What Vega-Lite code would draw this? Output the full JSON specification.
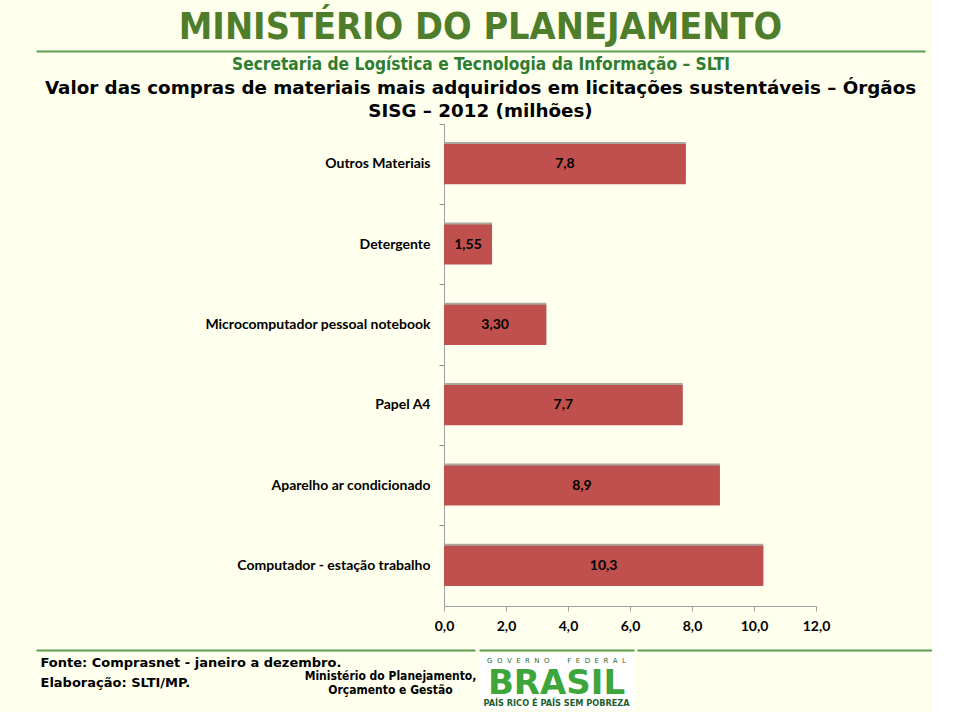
{
  "$schema": "https://vega.github.io/schema/vega-lite/v6.json",
  "background": "#FFFFEE",
  "padding": {"left": 33, "top": 8, "right": 0, "bottom": 0},
  "spacing": 6,
  "bounds": "full",
  "config": {
    "view": {"stroke": null},
    "axis": {"grid": false}
  },
  "vconcat": [
    {
      "width": 889,
      "height": 0,
      "data": {"values": [{}]},
      "mark": {"type": "point", "opacity": 0},
      "encoding": {
        "x": {
          "datum": 0,
          "type": "quantitative",
          "scale": {"domain": [0, 1]},
          "axis": {
            "orient": "bottom",
            "domainColor": "#5A9C4C",
            "domainWidth": 2,
            "ticks": false,
            "labels": false,
            "title": "Secretaria de Logística e Tecnologia da Informação – SLTI",
            "titleFont": "DejaVu Sans Condensed, sans-serif",
            "titleFontSize": 17.2,
            "titleFontWeight": "bold",
            "titleColor": "#2E7D32",
            "titlePadding": 4
          }
        }
      },
      "title": {
        "text": "MINISTÉRIO DO PLANEJAMENTO",
        "font": "DejaVu Sans Condensed, sans-serif",
        "fontSize": 37.5,
        "fontWeight": "bold",
        "color": "#4E7D2B",
        "anchor": "middle",
        "offset": -15
      }
    },
    {
      "width": 889,
      "height": 482,
      "title": {
        "text": ["Valor das compras de materiais mais adquiridos em licitações sustentáveis – Órgãos", "SISG – 2012 (milhões)"],
        "font": "DejaVu Sans, sans-serif",
        "fontSize": 18.3,
        "fontWeight": "bold",
        "color": "#000000",
        "anchor": "middle",
        "frame": "group",
        "offset": 2,
        "lineHeight": 23
      },
      "data": {
        "values": [
          {"material": "Outros Materiais", "valor": 7.8, "rotulo": "7,8"},
          {"material": "Detergente", "valor": 1.55, "rotulo": "1,55"},
          {"material": "Microcomputador pessoal notebook", "valor": 3.3, "rotulo": "3,30"},
          {"material": "Papel A4", "valor": 7.7, "rotulo": "7,7"},
          {"material": "Aparelho ar condicionado", "valor": 8.9, "rotulo": "8,9"},
          {"material": "Computador - estação trabalho", "valor": 10.3, "rotulo": "10,3"}
        ]
      },
      "encoding": {
        "y": {
          "field": "material",
          "type": "nominal",
          "sort": null,
          "scale": {"paddingInner": 0.5, "paddingOuter": 0.25},
          "axis": {
            "title": null,
            "offset": -408,
            "domainColor": "#A0A0A0",
            "tickColor": "#909090",
            "tickSize": 5,
            "bandPosition": -0.5,
            "labelFont": "Lato",
            "labelFontWeight": "bold",
            "labelFontSize": 14,
            "labelColor": "#000000",
            "labelPadding": 9,
            "labelLimit": 400
          }
        }
      },
      "layer": [
        {
          "mark": {"type": "bar", "color": "#A8A89E", "yOffset": -2, "x2Offset": 3},
          "encoding": {
            "x": {"field": "valor", "type": "quantitative", "scale": {"domain": [-13.1613, 15.5161], "nice": false}, "axis": null}
          }
        },
        {
          "mark": {"type": "bar", "color": "#C0504D"},
          "encoding": {
            "x": {
              "field": "valor",
              "type": "quantitative",
              "scale": {"domain": [-13.1613, 15.5161], "nice": false},
              "axis": {
                "title": null,
                "values": [0, 2, 4, 6, 8, 10, 12],
                "labelExpr": "replace(format(datum.value, '.1f'), '.', ',')",
                "domainColor": "#A0A0A0",
                "domainDash": [0, 408, 372, 200],
                "tickColor": "#A0A0A0",
                "tickSize": 5,
                "labelFont": "Lato",
                "labelFontWeight": "bold",
                "labelFontSize": 14,
                "labelColor": "#000000",
                "labelPadding": 8,
                "minExtent": 38
              }
            }
          }
        },
        {
          "mark": {"type": "text", "font": "Lato", "fontWeight": "bold", "fontSize": 14, "color": "#000000", "align": "center", "baseline": "middle"},
          "encoding": {
            "x": {"field": "valor", "type": "quantitative", "scale": {"domain": [-26.3226, 31.0323], "nice": false}, "axis": null},
            "text": {"field": "rotulo"}
          }
        }
      ],
      "resolve": {"scale": {"x": "independent"}}
    },
    {
      "spacing": 0,
      "hconcat": [
        {
          "width": 439,
          "height": 55,
          "data": {"values": [{}]},
          "mark": {"type": "point", "opacity": 0},
          "encoding": {
            "x": {
              "datum": 0,
              "type": "quantitative",
              "scale": {"domain": [0, 1]},
              "axis": {
                "orient": "top",
                "offset": 4,
                "domainColor": "#5A9C4C",
                "domainWidth": 2,
                "ticks": false,
                "labels": false,
                "title": ["Fonte: Comprasnet - janeiro a dezembro.", "Elaboração: SLTI/MP."],
                "titleFont": "DejaVu Sans",
                "titleFontSize": 13,
                "titleFontWeight": "bold",
                "titleColor": "#000000",
                "titleAlign": "left",
                "titleBaseline": "alphabetic",
                "titleAngle": 0,
                "titleX": 4,
                "titleY": 16,
                "titleLineHeight": 20
              }
            },
            "y": {
              "datum": 0,
              "type": "quantitative",
              "scale": {"domain": [0, 1]},
              "axis": {
                "domain": false,
                "ticks": false,
                "labels": false,
                "minExtent": 0,
                "maxExtent": 0,
                "title": ["Ministério do Planejamento,", "Orçamento e Gestão"],
                "titleFont": "DejaVu Sans Condensed, DejaVu Sans, sans-serif",
                "titleFontSize": 12,
                "titleFontWeight": "bold",
                "titleColor": "#000000",
                "titleAngle": 0,
                "titleAlign": "center",
                "titleBaseline": "alphabetic",
                "titleX": 354,
                "titleY": 25,
                "titleLineHeight": 14
              }
            }
          }
        },
        {
          "width": 155,
          "height": 55,
          "view": {"fill": "#FFFFFF", "stroke": null},
          "data": {
            "values": [
              {"r": "a", "t": "G\u00a0\u00a0O\u00a0\u00a0V\u00a0\u00a0E\u00a0\u00a0R\u00a0\u00a0N\u00a0\u00a0O\u00a0\u00a0\u00a0\u00a0\u00a0\u00a0\u00a0\u00a0F\u00a0\u00a0E\u00a0\u00a0D\u00a0\u00a0E\u00a0\u00a0R\u00a0\u00a0A\u00a0\u00a0L"},
              {"r": "b", "t": "BRASIL"},
              {"r": "c", "t": "PAÍS RICO É PAÍS SEM POBREZA"}
            ]
          },
          "encoding": {
            "y": {"field": "r", "type": "nominal", "scale": {"type": "point", "padding": 0.35}, "axis": null}
          },
          "layer": [
            {
              "mark": {"type": "point", "opacity": 0},
              "encoding": {
                "x": {
                  "datum": 0,
                  "type": "quantitative",
                  "scale": {"domain": [0, 1]},
                  "axis": {
                    "orient": "top",
                    "offset": 4,
                    "domainColor": "#5A9C4C",
                    "domainWidth": 2,
                    "ticks": false,
                    "labels": false,
                    "title": null
                  }
                }
              }
            },
            {
              "transform": [{"filter": "datum.r == 'a'"}],
              "mark": {"type": "text", "font": "DejaVu Sans", "fontSize": 7, "color": "#2E6B2E", "align": "center", "baseline": "middle"},
              "encoding": {"text": {"field": "t"}}
            },
            {
              "transform": [{"filter": "datum.r == 'b'"}],
              "mark": {"type": "text", "font": "DejaVu Sans", "fontWeight": "bold", "fontSize": 34, "color": "#3DA53A", "align": "center", "baseline": "middle", "dy": 2},
              "encoding": {"text": {"field": "t"}}
            },
            {
              "transform": [{"filter": "datum.r == 'c'"}],
              "mark": {"type": "text", "font": "DejaVu Sans", "fontWeight": "bold", "fontSize": 8.2, "color": "#1F5F2F", "align": "center", "baseline": "middle", "dy": 2},
              "encoding": {"text": {"field": "t"}}
            }
          ]
        },
        {
          "width": 295,
          "height": 55,
          "data": {"values": [{}]},
          "mark": {"type": "point", "opacity": 0},
          "encoding": {
            "x": {
              "datum": 0,
              "type": "quantitative",
              "scale": {"domain": [0, 1]},
              "axis": {
                "orient": "top",
                "offset": 4,
                "domainColor": "#5A9C4C",
                "domainWidth": 2,
                "ticks": false,
                "labels": false,
                "title": null
              }
            }
          }
        }
      ]
    }
  ]
}
